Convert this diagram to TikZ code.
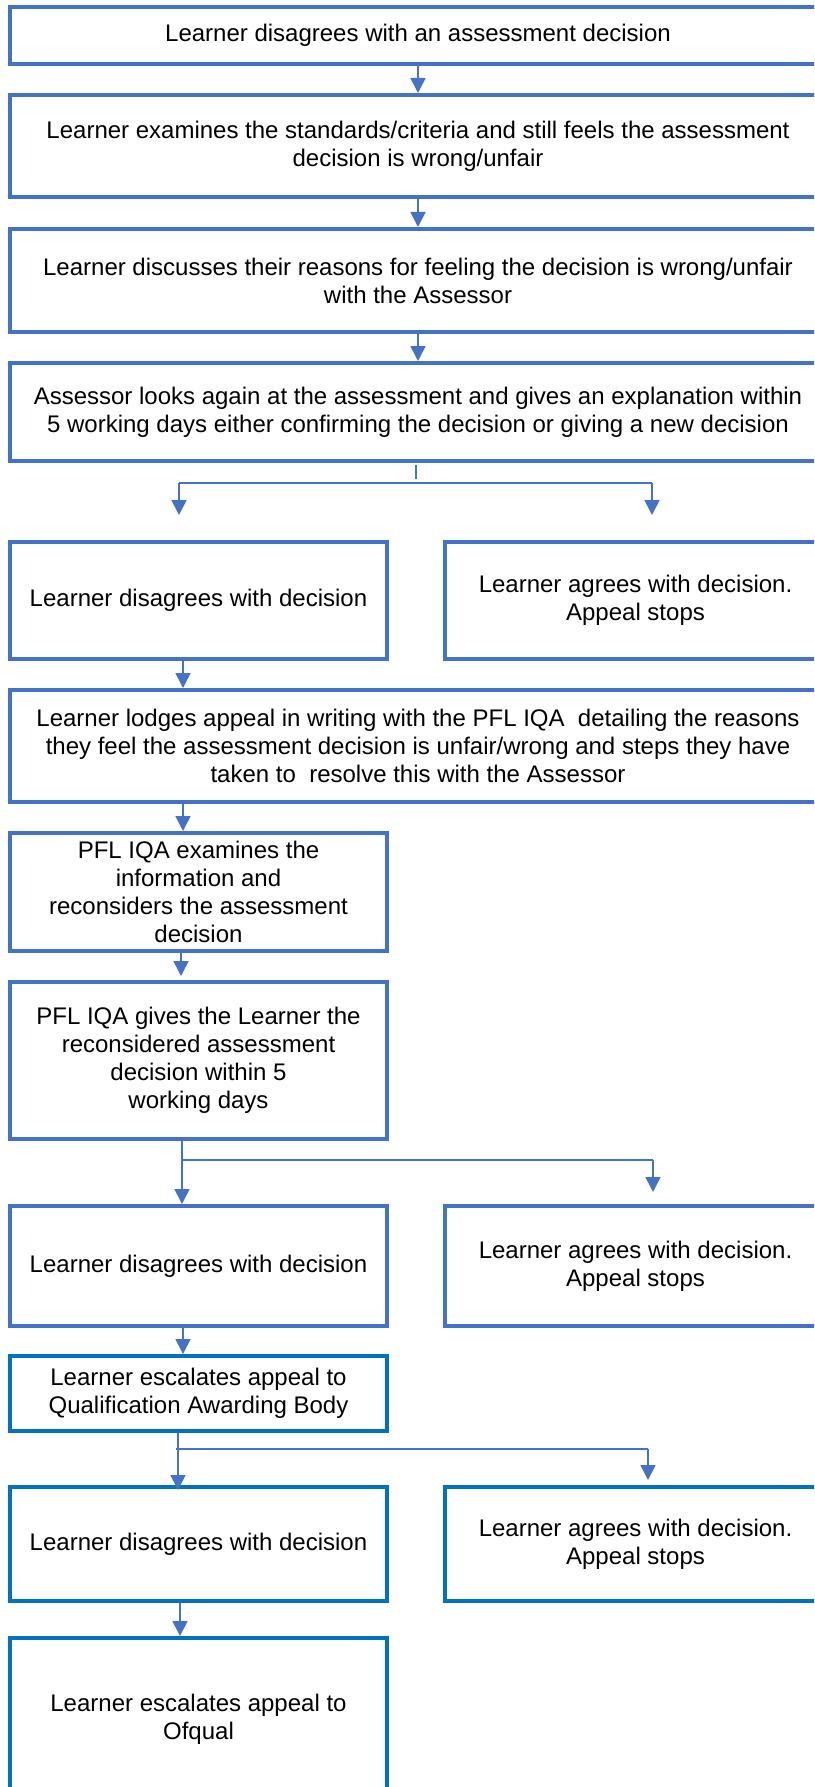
\documentclass[tikz,border=0pt]{standalone}
\usepackage{fontspec}
\setmainfont{Liberation Sans}
\usetikzlibrary{arrows.meta}
\definecolor{bA}{HTML}{4472C4}
\definecolor{bB}{HTML}{0070C0}
\begin{document}
\begin{tikzpicture}[x=1pt,y=-1pt,
  box/.style={draw=bA,line width=4pt,align=center,inner sep=0pt,
    font=\fontsize{24}{28}\selectfont},
  boxb/.style={box,draw=bB},
  conn/.style={draw=bA,line width=1.6pt},
  arr/.style={conn,-{Triangle[length=15pt,width=15pt]}}]
\useasboundingbox (0,0) rectangle (814,1787);
\clip (0,0) rectangle (814,1787);
\fill[white] (0,0) rectangle (814,1787);

% wide boxes
\node[box,minimum width=816pt,minimum height=57pt] (b1) at (418,35.5)
  {Learner disagrees with an assessment decision};
\node[box,minimum width=816pt,minimum height=102pt] (b2) at (418,146)
  {Learner examines the standards/criteria and still feels the assessment\\decision is wrong/unfair};
\node[box,minimum width=816pt,minimum height=103pt] (b3) at (418,280.5)
  {Learner discusses their reasons for feeling the decision is wrong/unfair\\with the Assessor};
\node[box,minimum width=816pt,minimum height=98pt] (b4) at (418,412)
  {Assessor looks again at the assessment and gives an explanation within\\5 working days either confirming the decision or giving a new decision};

\node[box,minimum width=377pt,minimum height=117pt] (l1) at (198.5,600.5)
  {Learner disagrees with decision};
\node[box,minimum width=381pt,minimum height=117pt] (r1) at (635.5,600.5)
  {Learner agrees with decision.\\Appeal stops};

\node[box,minimum width=816pt,minimum height=112pt] (lodge) at (418,746)
  {Learner lodges appeal in writing with the PFL IQA\ \ detailing the reasons\\they feel the assessment decision is unfair/wrong and steps they have\\taken to\ \ resolve this with the Assessor};

\node[box,minimum width=377pt,minimum height=118pt] (pfl1) at (198.5,892)
  {PFL IQA examines the\\information and\\reconsiders the assessment\\decision};
\node[box,minimum width=377pt,minimum height=157pt] (pfl2) at (198.5,1060.5)
  {PFL IQA gives the Learner the\\reconsidered assessment\\decision within 5\\working days};

\node[box,minimum width=377pt,minimum height=120pt] (l2) at (198.5,1266)
  {Learner disagrees with decision};
\node[box,minimum width=381pt,minimum height=120pt] (r2) at (635.5,1266)
  {Learner agrees with decision.\\Appeal stops};

\node[boxb,minimum width=377pt,minimum height=75pt] (qab) at (198.5,1393.5)
  {Learner escalates appeal to\\Qualification Awarding Body};

\node[boxb,minimum width=377pt,minimum height=114pt] (l3) at (198.5,1544)
  {Learner disagrees with decision};
\node[boxb,minimum width=381pt,minimum height=114pt] (r3) at (635.5,1544)
  {Learner agrees with decision.\\Appeal stops};

\node[boxb,minimum width=377pt,minimum height=162pt] (ofq) at (198.5,1719)
  {Learner escalates appeal to\\Ofqual};

% straight connectors
\draw[arr] (b1.south) -- (b2.north);
\draw[arr] (b2.south) -- (b3.north);
\draw[arr] (b3.south) -- (b4.north);

\coordinate (cx) at (183,0);
\coordinate (cy) at (181,0);
\coordinate (cz) at (180,0);
\draw[arr] (l1.south -| cx) -- (lodge.north -| cx);
\draw[arr] (lodge.south -| cx) -- (pfl1.north -| cx);
\draw[arr] (pfl1.south -| cy) -- ([yshift=4pt]pfl2.north -| cy);
\draw[arr] (l2.south -| cx) -- (qab.north -| cx);
\draw[arr] (l3.south -| cz) -- (ofq.north -| cz);

% branch 1 (after assessor)
\coordinate (s1a) at (416,465);
\coordinate (s1b) at (416,479);
\coordinate (h1l) at (179,483);
\coordinate (h1r) at (652,483);
\coordinate (t1l) at (179,515);
\coordinate (t1r) at (652,515);
\draw[conn] (s1a) -- (s1b);
\draw[conn] (h1l) -- (h1r);
\draw[arr] (h1l) -- (t1l);
\draw[arr] (h1r) -- (t1r);

% branch 2 (after PFL IQA)
\coordinate (h2l) at (182,1160);
\coordinate (h2r) at (653,1160);
\coordinate (t2r) at (653,1192);
\draw[arr] (pfl2.south -| h2l) -- (l2.north -| h2l);
\draw[conn] (h2l) -- (h2r);
\draw[arr] (h2r) -- (t2r);

% branch 3 (after QAB)
\coordinate (h3l) at (178,1449);
\coordinate (h3s) at (176,1449);
\coordinate (h3r) at (648,1449);
\coordinate (t3r) at (648,1480);
\draw[arr] (qab.south -| h3l) -- ([yshift=-5pt]l3.north -| h3l);
\draw[conn] (h3s) -- (h3r);
\draw[arr] (h3r) -- (t3r);
\end{tikzpicture}
\end{document}
